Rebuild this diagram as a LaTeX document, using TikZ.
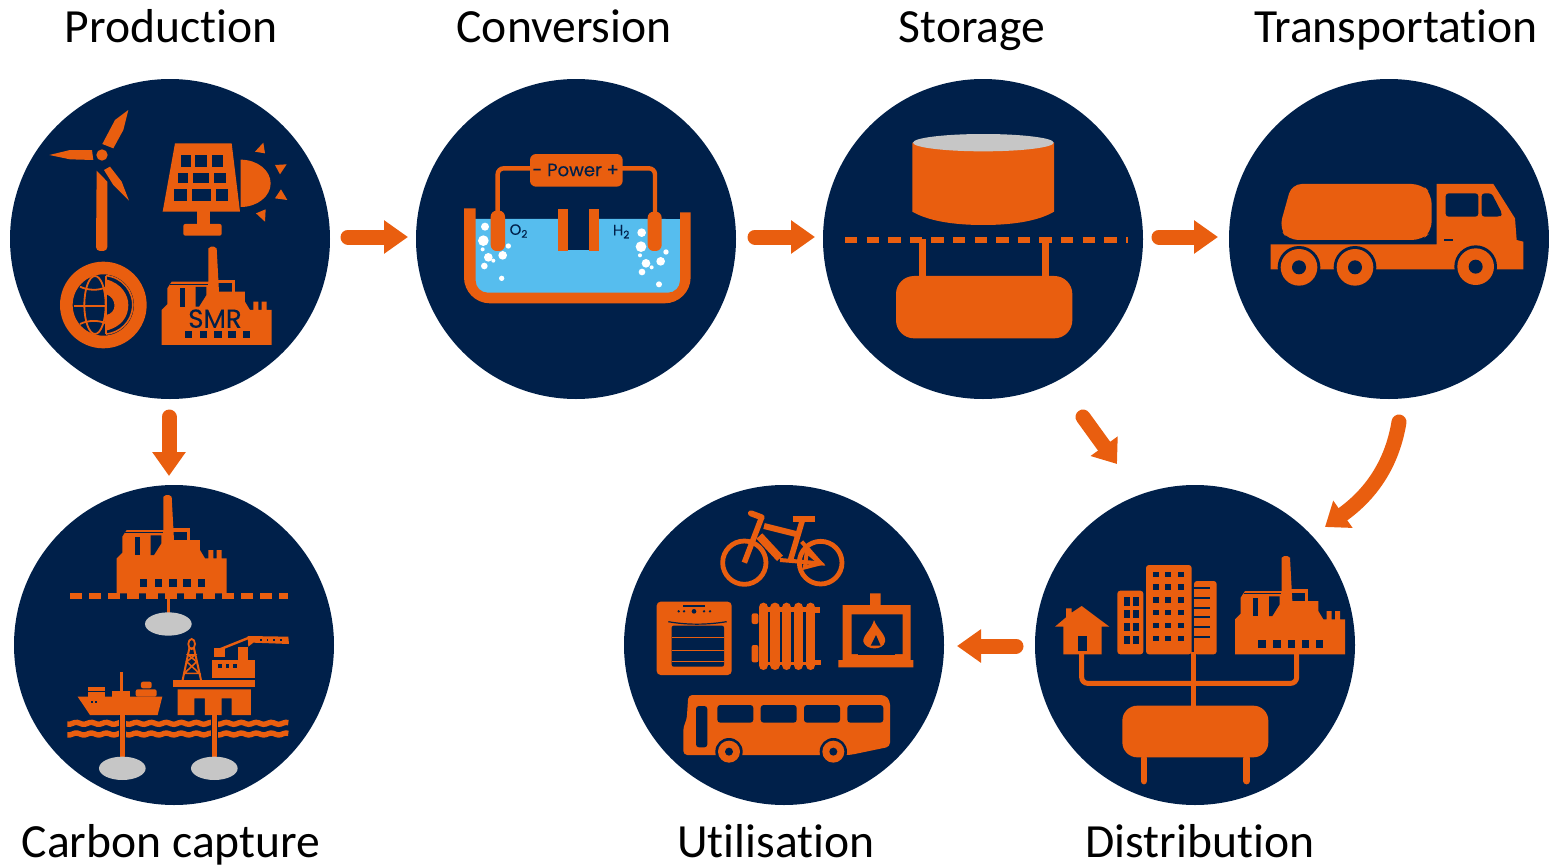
\documentclass[tikz,border=0pt]{standalone}
\usepackage{fontspec}
\setmainfont[Ligatures=NoCommon]{Carlito}
\newfontfamily\iconfont[FakeBold=0.3]{Poppins}
\usetikzlibrary{arrows.meta}
\definecolor{navy}{HTML}{00204A}
\definecolor{orng}{HTML}{E95E0F}
\definecolor{wtr}{HTML}{56BDEE}
\definecolor{gry}{HTML}{C6C6C6}
\tikzset{
 disc/.style={circle,fill=navy,minimum size=160pt,inner sep=0pt,outer sep=0pt},
 lbl/.style={anchor=base,inner sep=0pt,font=\fontsize{23.8}{28}\selectfont,text=black},
 flow/.style={draw=orng,line width=7.5pt,line cap=round,-{Triangle[length=12pt,width=16pt]}},
 flowb/.style={draw=orng,line width=7.5pt,line cap=round,-{Triangle[length=11pt,width=16pt]}},
 o/.style={fill=orng},
 d/.style={fill=navy},
 ol/.style={draw=orng,line width=#1},
 dl/.style={draw=navy,line width=#1},
 icontext/.style={inner sep=0pt,text=navy}
}
\newcommand{\factoryshape}{%
 \fill[o] (0,0)--(0,-105)--(17,-122)--(17,-170)--(30,-190)--(140,-190)--(140,-290)
  [rounded corners=1pt]--(142,-295)--(163,-295)[sharp corners]--(165,-290)--(172,-160)--(250,-160)--(250,-130)--(265,-105)--(275,-105)
  --(275,-130)--(290,-130)--(290,-105)--(300,-105)--(300,-130)--(315,-130)--(315,-105)--(330,-105)--(330,0)--cycle;
 \draw[ol=1.6pt] (168,-190)-|(215,-160);
 \draw[dl=.7pt] (26,-182)--(138,-182);
 \fill[d] (55,-170)--(70,-170)--(70,-115)--(55,-115)--cycle;
 \fill[d] (102,-174)--(134,-174)--(134,-150)--(112,-115)--(102,-115)--cycle;
 \foreach \wx in {70,115,158,200,243} \fill[d] (\wx,-42) rectangle ++(22,22);
}
\begin{document}
\begin{tikzpicture}[x=.5pt,y=-.5pt]
\useasboundingbox (0,0) rectangle (1549,867);
% discs
\node[disc] (prod) at (170,239) {};
\node[disc] (conv) at (576,239) {};
\node[disc] (stor) at (983,239) {};
\node[disc] (tran) at (1389,239) {};
\node[disc] (carb) at (174,645) {};
\node[disc] (util) at (784,645) {};
\node[disc] (dist) at (1195,645) {};
% labels
\node[lbl] (lprod) at (171,42) {Production};
\node[lbl] (lconv) at (564,42) {Conversion};
\node[lbl] (lstor) at (972,42) {Storage};
\node[lbl] (ltran) at (1396,42) {Transportation};
\node[lbl] (lcarb) at (171,857) {Carbon capture};
\node[lbl] (lutil) at (776,857) {Utilisation};
\node[lbl] (ldist) at (1200,857) {Distribution};
% arrows
\coordinate (a1s) at (348,237); \coordinate (a1e) at (408,237);
\coordinate (a2s) at (755,237); \coordinate (a2e) at (815,237);
\coordinate (a3s) at (1159,237); \coordinate (a3e) at (1218,237);
\coordinate (a4s) at (169,417); \coordinate (a4e) at (169,476);
\coordinate (a5s) at (1083,417); \coordinate (a5e) at (1117,464);
\coordinate (a6s) at (1399,422); \coordinate (a6c1) at (1392,465); \coordinate (a6c2) at (1370,495); \coordinate (a6e) at (1325,527);
\coordinate (a7s) at (1016,646); \coordinate (a7e) at (957,646);
\draw[flow] (a1s)--(a1e);
\draw[flow] (a2s)--(a2e);
\draw[flow] (a3s)--(a3e);
\draw[flow] (a4s)--(a4e);
\draw[flowb] (a5s)--(a5e);
\draw[flowb] (a6s) .. controls (a6c1) and (a6c2) .. (a6e);
\draw[flow] (a7s)--(a7e);

% ---------- Production
\begin{scope}[shift={(0,70)},scale=.33333]
 % turbine
 \fill[o] (290,302)--(322,335)--(322,530)[rounded corners=2pt]--(322,543)--(288,543)[sharp corners]--(288,530)--cycle;
 \fill[o] (148,255)--(210,240)--(276,240)--(280,270)--(210,268)--cycle;
 \fill[o] (385,120)--(370,180)--(340,235)--(307,222)--(345,150)--cycle;
 \fill[o] (387,392)--(340,345)--(312,300)--(330,290)--(365,335)--cycle;
 \fill[d] (306,255) circle[radius=24];
 \fill[o] (306,255) circle[radius=17];
 % solar
 \fill[o] (525,220)--(695,220)--(720,425)--(488,425)--cycle;
 \fill[o] (590,420) rectangle (630,470);
 \fill[o,rounded corners=1pt] (550,462) rectangle (665,497);
 \foreach \xa/\xb/\ya/\yb in {542/572/255/290,585/622/255/290,637/670/255/290,
   533/565/308/340,580/628/308/340,643/678/308/340,522/560/358/392,575/632/358/392,647/685/358/392}
   \fill[d] (\xa,\ya) rectangle (\xb,\yb);
 \fill[o] (722,269) arc[start angle=-90,end angle=90,x radius=90,y radius=71]--cycle;
 \fill[o] (765,245)--(790,218)--(795,250)--cycle;
 \fill[o] (825,285)--(860,283)--(840,313)--cycle;
 \fill[o] (825,385)--(843,358)--(862,390)--cycle;
 \fill[o] (768,430)--(797,418)--(795,455)--cycle;
 % globe
 \fill[o,even odd rule] (310,705) circle[radius=130] circle[radius=92];
 \draw[ol=.8pt] (318,617) arc[start angle=-85,end angle=85,radius=88];
 \fill[o] (318,628) .. controls (365,640) and (385,675) .. (385,705) .. controls (385,740) and (365,770) .. (318,782)--(318,735) .. controls (352,730) and (352,685) .. (318,672)--cycle;
 \draw[ol=.9pt] (318,618)--(318,792);
 \draw[ol=.9pt] (222,707)--(318,707);
 \draw[ol=.9pt] (285,705) ellipse[x radius=32,y radius=87];
 \draw[ol=.9pt] (240,650) .. controls (265,662) and (295,662) .. (318,652);
 \draw[ol=.9pt] (240,762) .. controls (265,750) and (295,750) .. (318,760);
 % factory
 \begin{scope}[shift={(485,825)}]
  \factoryshape
 \end{scope}
 \node[icontext,font=\iconfont\fontsize{13}{15}\selectfont] (smr) at (645,746) {SMR};
\end{scope}

% ---------- Conversion
\begin{scope}[shift={(410,70)},scale=.33333]
 \fill[wtr,rounded corners=8pt] (190,447)--(190,675)--(815,675)--(815,447)[sharp corners]--cycle;
 \fill[wtr] (190,447) rectangle (815,480);
 \fill[o] (162,415)--(197,415)[rounded corners=6pt]--(197,668)--(810,668)[sharp corners]--(810,427)--(842,427)[rounded corners=13pt]--(842,700)--(162,700)[sharp corners]--cycle;
 \fill[d] (475,417) rectangle (537,540);
 \fill[o] (443,417) rectangle (475,543);
 \fill[o] (537,417) rectangle (568,543);
 \foreach \bx/\by/\br in {225/470/12,220/512/16,218/538/6,295/528/8,278/556/13,235/562/13,250/572/6,223/588/10,275/625/8,
   695/488/13,693/530/16,690/556/6,768/546/8,752/574/13,708/580/13,725/592/6,696/606/10,747/643/9}
   \fill[white] (\bx,\by) circle[radius=\br];
 \draw[ol=2.2pt,rounded corners=3pt] (263,430)--(263,295)--(370,295);
 \draw[ol=2.2pt,rounded corners=3pt] (735,430)--(735,295)--(630,295);
 \fill[o,rounded corners=3pt] (242,422) rectangle (285,543);
 \fill[o,rounded corners=3pt] (713,425) rectangle (755,543);
 \fill[o,rounded corners=3pt] (360,252) rectangle (638,350);
 \node[icontext,font=\iconfont\fontsize{9}{10}\selectfont] (pwr) at (497,300) {- Power +};
 \node[icontext,font=\iconfont\fontsize{7.5}{8}\selectfont] (otwo) at (327,483) {O\textsubscript{2}};
 \node[icontext,font=\iconfont\fontsize{7.5}{8}\selectfont] (htwo) at (635,485) {H\textsubscript{2}};
\end{scope}

% ---------- Storage
\begin{scope}[shift={(820,70)},scale=.33333]
 \fill[o] (277,218)--(702,218)--(702,425) .. controls (660,450) and (590,465) .. (490,465) .. controls (390,465) and (320,450) .. (277,425)--cycle;
 \fill[gry] (490,218) ellipse[x radius=211,y radius=26];
 \draw[draw=orng,line width=2.7pt,dash pattern=on 6.2pt off 4.6pt] (75,510)--(925,510);
 \fill[o] (297,506) rectangle (319,640);
 \fill[o] (665,506) rectangle (688,640);
 \fill[o,rounded corners=9pt] (228,618) rectangle (757,805);
\end{scope}

% ---------- Transportation
\begin{scope}[shift={(1220,70)},scale=.33333]
 \fill[o,rounded corners=5pt] (215,342)--(605,342)--(635,372)--(635,485)--(605,510)--(205,510)--(178,475)--cycle;
 \fill[o] (152,523)--(650,523)--(650,342)--(820,342)--(885,445)--(890,510)--(910,515)--(910,598)--(152,598)--cycle;
 \fill[d,rounded corners=1.5pt] (677,370) rectangle (775,440);
 \fill[d,rounded corners=1.5pt] (785,370)--(815,370)--(847,432)--(840,440)--(785,440)--cycle;
 \draw[dl=.8pt] (672,510)--(700,510);
 \foreach \wx/\wy in {237/592,405/592,767/590}{
  \fill[d] (\wx,\wy) circle[radius=64];
  \fill[o] (\wx,\wy) circle[radius=55];
  \fill[d] (\wx,\wy) circle[radius=21];
 }
\end{scope}

% ---------- Carbon capture
\begin{scope}[shift={(5,480)},scale=.33333]
 \draw[draw=orng,line width=2.7pt,dash pattern=on 5.8pt off 3.7pt] (195,348)--(850,348);
 \begin{scope}[shift={(335,340)}]\factoryshape\end{scope}
 \draw[ol=1.3pt] (490,340)--(490,405);
 \fill[gry] (490,432) ellipse[x radius=70,y radius=35];
 % ship
 \fill[o] (218,650)--(472,650)--(458,705)--(255,705)--cycle;
 \fill[d] (258,662) rectangle (265,669);
 \fill[d] (270,662) rectangle (277,669);
 \fill[o] (322,632) rectangle (375,652);
 \fill[o] (345,575) rectangle (355,635);
 \fill[o] (248,620) rectangle (300,650);
 \draw[dl=.5pt] (248,635)--(300,635);
 \fill[o,rounded corners=1pt] (392,628) rectangle (455,650);
 \fill[o,rounded corners=1pt] (408,605) rectangle (440,625);
 % rig
 \fill[o] (503,600) rectangle (750,620);
 \fill[o] (518,628)--(738,628)--(738,705)--(680,705)--(680,655)--(650,655)--(650,705)--(600,705)--(600,655)--(568,655)--(568,705)--(518,705)--cycle;
 \draw[ol=1pt] (533,600)--(553,505)--(567,505)--(588,600);
 \draw[ol=.8pt] (538,580)--(575,545)--(550,525)--(570,525)--(545,545)--(583,580)--(538,580);
 \draw[ol=.9pt] (560,492) ellipse[x radius=10,y radius=15];
 \fill[o] (620,540) rectangle (750,595);
 \foreach \wx in {640,662,685} \fill[d] (\wx,553) rectangle ++(10,12);
 \fill[o] (628,505) rectangle (660,530);
 \fill[o] (700,500) rectangle (730,545);
 \draw[ol=1.2pt] (640,510)--(735,472);
 \fill[o] (728,468)--(850,470)--(852,492)--(745,488)--(730,500)--cycle;
 \foreach \wx in {765,785,805,825} \fill[d] (\wx,476) rectangle ++(5,6);
 % sea
 \foreach \wy in {730,762}
  \draw[ol=2.7pt] plot[domain=187:850,samples=90] (\x,{\wy+3*sin(8*\x)});
 \draw[dl=3.4pt] (352,705)--(352,785);
 \draw[dl=3.4pt] (628,705)--(628,785);
 \draw[ol=2.2pt] (352,705)--(352,840);
 \draw[ol=2.2pt] (628,705)--(628,840);
 \fill[gry] (352,865) ellipse[x radius=70,y radius=35];
 \fill[gry] (628,865) ellipse[x radius=70,y radius=35];
\end{scope}

% ---------- Utilisation
\begin{scope}[shift={(620,480)},scale=.33333]
 % bike
 \draw[ol=2.4pt] (373,248) circle[radius=65];
 \draw[ol=2.4pt] (602,248) circle[radius=64];
 \draw[ol=3pt,line cap=round] (393,100)--(425,112);
 \draw[ol=2.8pt] (425,112)--(373,248);
 \draw[ol=3pt] (518,118)--(585,118);
 \draw[ol=2.8pt] (548,118)--(510,245);
 \draw[ol=3pt] (432,138)--(540,165);
 \draw[ol=4pt] (418,168)--(480,235);
 \draw[ol=2pt] (480,240)--(602,250)--(545,185);
 \draw[ol=2pt] (555,262)--(602,250)--(560,215)--cycle;
 % oven
 \fill[o,rounded corners=2pt] (110,365) rectangle (335,585);
 \fill[d] (190,374) rectangle (255,382);
 \foreach \wx in {176,192,252,270} \fill[d] (\wx,394) circle[radius=4];
 \fill[d] (222,394) circle[radius=7];
 \draw[dl=.6pt] (145,425) .. controls (200,435) and (260,435) .. (320,425);
 \fill[d,rounded corners=1pt] (155,437) rectangle (312,560);
 \foreach \wy in {472,510,545} \draw[ol=.4pt] (155,\wy)--(312,\wy);
 % radiator
 \foreach \wx in {430,465,500,535,572} \draw[ol=4.7pt,line cap=round] (\wx,382)--(\wx,556);
 \fill[o] (418,382) rectangle (588,395);
 \fill[o] (418,545) rectangle (588,556);
 \fill[o,rounded corners=1pt] (395,400) rectangle (415,432);
 \fill[o,rounded corners=1pt] (395,495) rectangle (415,547);
 \fill[o] (585,380) rectangle (600,400);
 \fill[o] (585,540) rectangle (603,555);
 % fireplace
 \fill[o] (750,340)--(782,340)--(782,375)--(872,375)--(872,540)--(880,540)--(880,562)--(655,562)--(655,540)--(668,540)--(668,375)--(750,375)--cycle;
 \fill[d] (695,403)--(848,403)--(848,522)--(825,522)--(825,505)--(715,505)--(715,522)--(695,522)--cycle;
 \fill[d] (715,505) rectangle (825,526);
 \fill[o] (762,420) .. controls (770,445) and (800,465) .. (795,485) .. controls (790,512) and (738,512) .. (730,485) .. controls (728,465) and (755,450) .. (762,420)--cycle;
 \fill[d] (768,465)--(782,497)--(752,497)--cycle;
 % bus
 \fill[o,rounded corners=2pt] (205,645)--(795,645)--(810,662)--(810,800)--(690,825)--(190,825)--(190,740)--(200,720)--cycle;
 \fill[d,rounded corners=1.5pt] (228,678) rectangle (262,802);
 \foreach \wx in {292,422,552,682} \fill[d,rounded corners=1.5pt] (\wx,675) rectangle ++(108,53);
 \foreach \wx in {327,640}{
  \fill[d] (\wx,815) circle[radius=41];
  \fill[o] (\wx,815) circle[radius=33];
  \fill[d] (\wx,815) circle[radius=12];
 }
\end{scope}

% ---------- Distribution
\begin{scope}[shift={(1030,480)},scale=.33333]
 \draw[ol=2.5pt,rounded corners=3pt] (155,515)--(155,610)--(800,610)--(800,515);
 \draw[ol=2.5pt] (490,515)--(490,685);
 \fill[o] (75,440)--(108,412)--(108,385)--(125,385)--(125,398)--(155,378)--(238,440)--(215,440)--(215,523)--(100,523)--(100,440)--cycle;
 \fill[d] (143,467) rectangle (170,513);
 \fill[o,rounded corners=1.5pt] (262,332) rectangle (340,523);
 \foreach \wx in {282,310} \foreach \wy in {352,390,428,467} \fill[d] (\wx,\wy) rectangle ++(18,25);
 \fill[o,rounded corners=1.5pt] (348,255) rectangle (485,523);
 \foreach \wx in {368,406,445} \foreach \wy in {275,313,352,390,428,467} \fill[d] (\wx,\wy) rectangle ++(18,16);
 \fill[o,rounded corners=1.5pt] (492,303) rectangle (560,523);
 \foreach \wy in {325,355,385,412,440,470} \draw[dl=.9pt] (492,\wy)--(540,\wy);
 \begin{scope}[shift={(615,523)}]\factoryshape\end{scope}
 \fill[o,rounded corners=7.5pt] (277,677) rectangle (715,832);
 \draw[ol=3.4pt,line cap=round] (342,835)--(342,903);
 \draw[ol=3.4pt,line cap=round] (650,835)--(650,903);
\end{scope}
\end{tikzpicture}
\end{document}
